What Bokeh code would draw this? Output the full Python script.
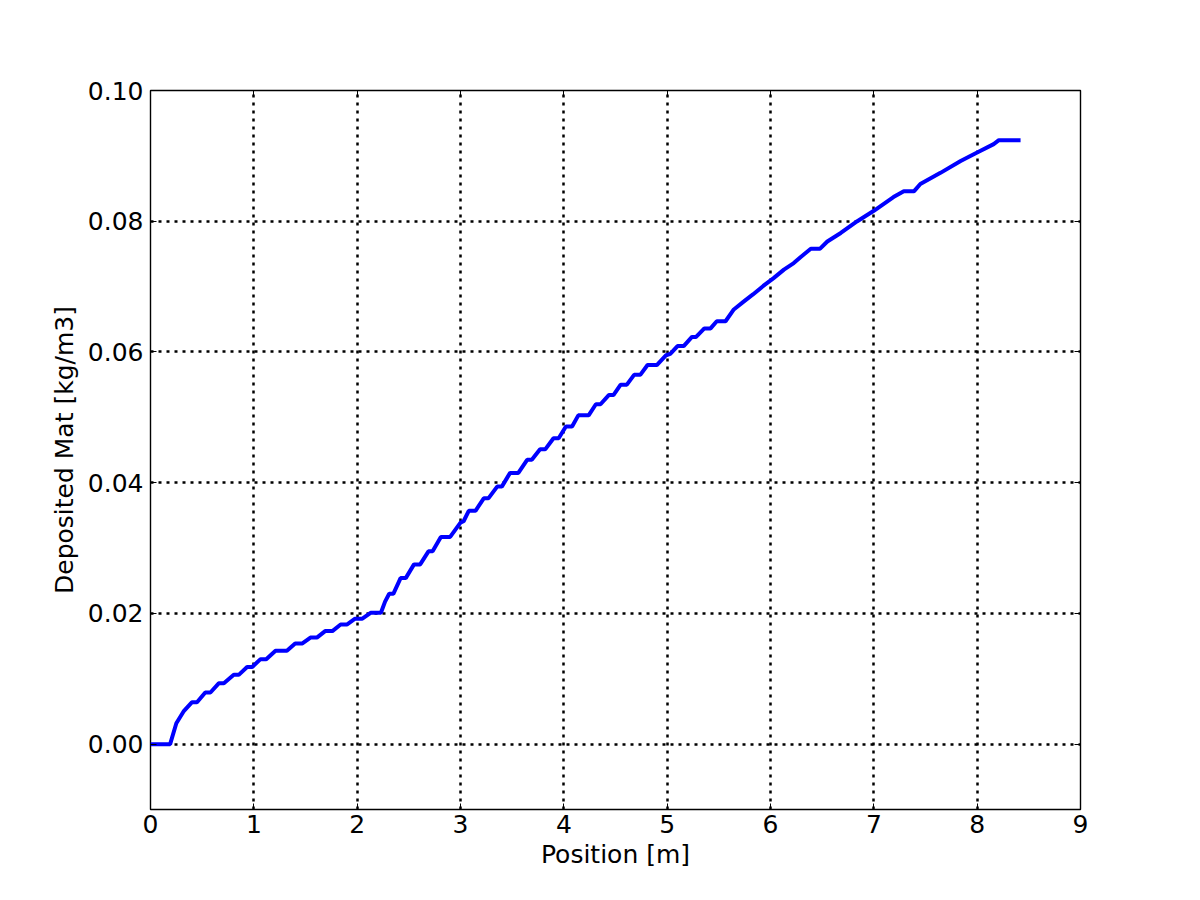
from bokeh.plotting import figure
from bokeh.models import Range1d, FixedTicker, LinearAxis, CustomJSTickFormatter
from bokeh.embed import file_html
from bokeh.resources import INLINE

# Curve: position [m] and deposited material [kg/m3]
position = [0.00, 0.19, 0.25, 0.32, 0.40, 0.45, 0.53, 0.58, 0.66, 0.71, 0.806, 0.854,
            0.935, 0.984, 1.065, 1.12, 1.21, 1.32, 1.40, 1.47, 1.548, 1.61, 1.69, 1.76,
            1.84, 1.90, 1.98, 2.05, 2.13, 2.23, 2.27, 2.31, 2.35, 2.42, 2.47, 2.55, 2.61,
            2.69, 2.73, 2.81, 2.90, 3.00, 3.03, 3.08, 3.145, 3.225, 3.27, 3.355, 3.40,
            3.48, 3.56, 3.645, 3.69, 3.77, 3.82, 3.90, 3.95, 4.02, 4.08, 4.14, 4.24,
            4.31, 4.355, 4.435, 4.48, 4.55, 4.61, 4.68, 4.74, 4.81, 4.90, 4.99, 5.03,
            5.10, 5.16, 5.24, 5.28, 5.36, 5.42, 5.48, 5.565, 5.645, 5.74, 5.83, 5.93,
            6.03, 6.13, 6.225, 6.29, 6.39, 6.48, 6.55, 6.68, 6.84, 7.00, 7.19, 7.29,
            7.39, 7.45, 7.645, 7.84, 8.00, 8.16, 8.21, 8.42]
deposited = [0.0, 0.0, 0.0032, 0.0050, 0.0064, 0.0064, 0.0079, 0.0079, 0.0093, 0.0093,
             0.0106, 0.0106, 0.0118, 0.0118, 0.0130, 0.0130, 0.0143, 0.0143, 0.0154,
             0.0154, 0.0163, 0.0163, 0.0173, 0.0173, 0.0183, 0.0183, 0.0192, 0.0192,
             0.0201, 0.0201, 0.0218, 0.0230, 0.0230, 0.0254, 0.0254, 0.0275, 0.0275,
             0.0295, 0.0295, 0.0317, 0.0317, 0.0339, 0.0341, 0.0357, 0.0357, 0.0376,
             0.0376, 0.0394, 0.0394, 0.0415, 0.0415, 0.0435, 0.0435, 0.0451, 0.0451,
             0.0468, 0.0468, 0.0486, 0.0486, 0.0503, 0.0503, 0.0520, 0.0520, 0.0534,
             0.0534, 0.0550, 0.0550, 0.0565, 0.0565, 0.0580, 0.0580, 0.0595, 0.0597,
             0.0609, 0.0609, 0.0623, 0.0623, 0.0636, 0.0636, 0.0647, 0.0647, 0.0665,
             0.0677, 0.0688, 0.0701, 0.0713, 0.0726, 0.0736, 0.0745, 0.0758, 0.0758,
             0.0769, 0.0782, 0.0800, 0.0816, 0.0837, 0.0846, 0.0846, 0.0857, 0.0874,
             0.0892, 0.0905, 0.0918, 0.0924, 0.0924]

x_ticks = [0, 1, 2, 3, 4, 5, 6, 7, 8, 9]
y_ticks = [0.00, 0.02, 0.04, 0.06, 0.08, 0.10]

FONT = "DejaVu Sans"
FS = "25px"

p = figure(width=1200, height=900, output_backend="svg", toolbar_location=None,
           x_range=Range1d(0, 9), y_range=Range1d(-0.01, 0.10),
           min_border_left=150, min_border_right=120, min_border_top=90,
           min_border_bottom=91, x_axis_label="Position [m]",
           y_axis_label="Deposited Mat [kg/m3]")

p.outline_line_color = "black"
p.outline_line_width = 1.4
p.background_fill_color = "white"
p.border_fill_color = "white"

fmt = CustomJSTickFormatter(code="return tick.toFixed(2);")

for ax in p.xaxis:
    ax.ticker = FixedTicker(ticks=x_ticks)
for ax in p.yaxis:
    ax.ticker = FixedTicker(ticks=y_ticks)
    ax.formatter = fmt

for ax in list(p.xaxis) + list(p.yaxis):
    ax.axis_line_color = None
    ax.major_tick_in = 6
    ax.major_tick_out = 0
    ax.minor_tick_line_color = None
    ax.major_tick_line_color = "black"
    ax.major_tick_line_width = 1
    ax.major_label_text_font = FONT
    ax.major_label_text_font_size = FS
    ax.major_label_text_color = "black"
    ax.axis_label_text_font = FONT
    ax.axis_label_text_font_size = FS
    ax.axis_label_text_font_style = "normal"
    ax.axis_label_text_color = "black"

p.xaxis.major_label_standoff = 5
p.yaxis.major_label_standoff = 7
p.xaxis.axis_label_standoff = 4
p.yaxis.axis_label_standoff = 6

blank = CustomJSTickFormatter(code="return '';")
top = LinearAxis(ticker=FixedTicker(ticks=x_ticks), formatter=blank,
                 major_tick_in=6, major_tick_out=0, minor_tick_line_color=None,
                 axis_line_color=None)
right = LinearAxis(ticker=FixedTicker(ticks=y_ticks), formatter=blank,
                   major_tick_in=6, major_tick_out=0, minor_tick_line_color=None,
                   axis_line_color=None)
p.add_layout(top, "above")
p.add_layout(right, "right")

p.xgrid.ticker = FixedTicker(ticks=x_ticks)
p.ygrid.ticker = FixedTicker(ticks=y_ticks)
for g in (p.xgrid, p.ygrid):
    g.grid_line_color = "black"
    g.grid_line_width = 2.5
    g.grid_line_dash = "3 5"
    g.grid_line_alpha = 1.0

p.line(position, deposited, line_color="#0000ff", line_width=4)

open("out.html", "w").write(file_html(p, INLINE))
